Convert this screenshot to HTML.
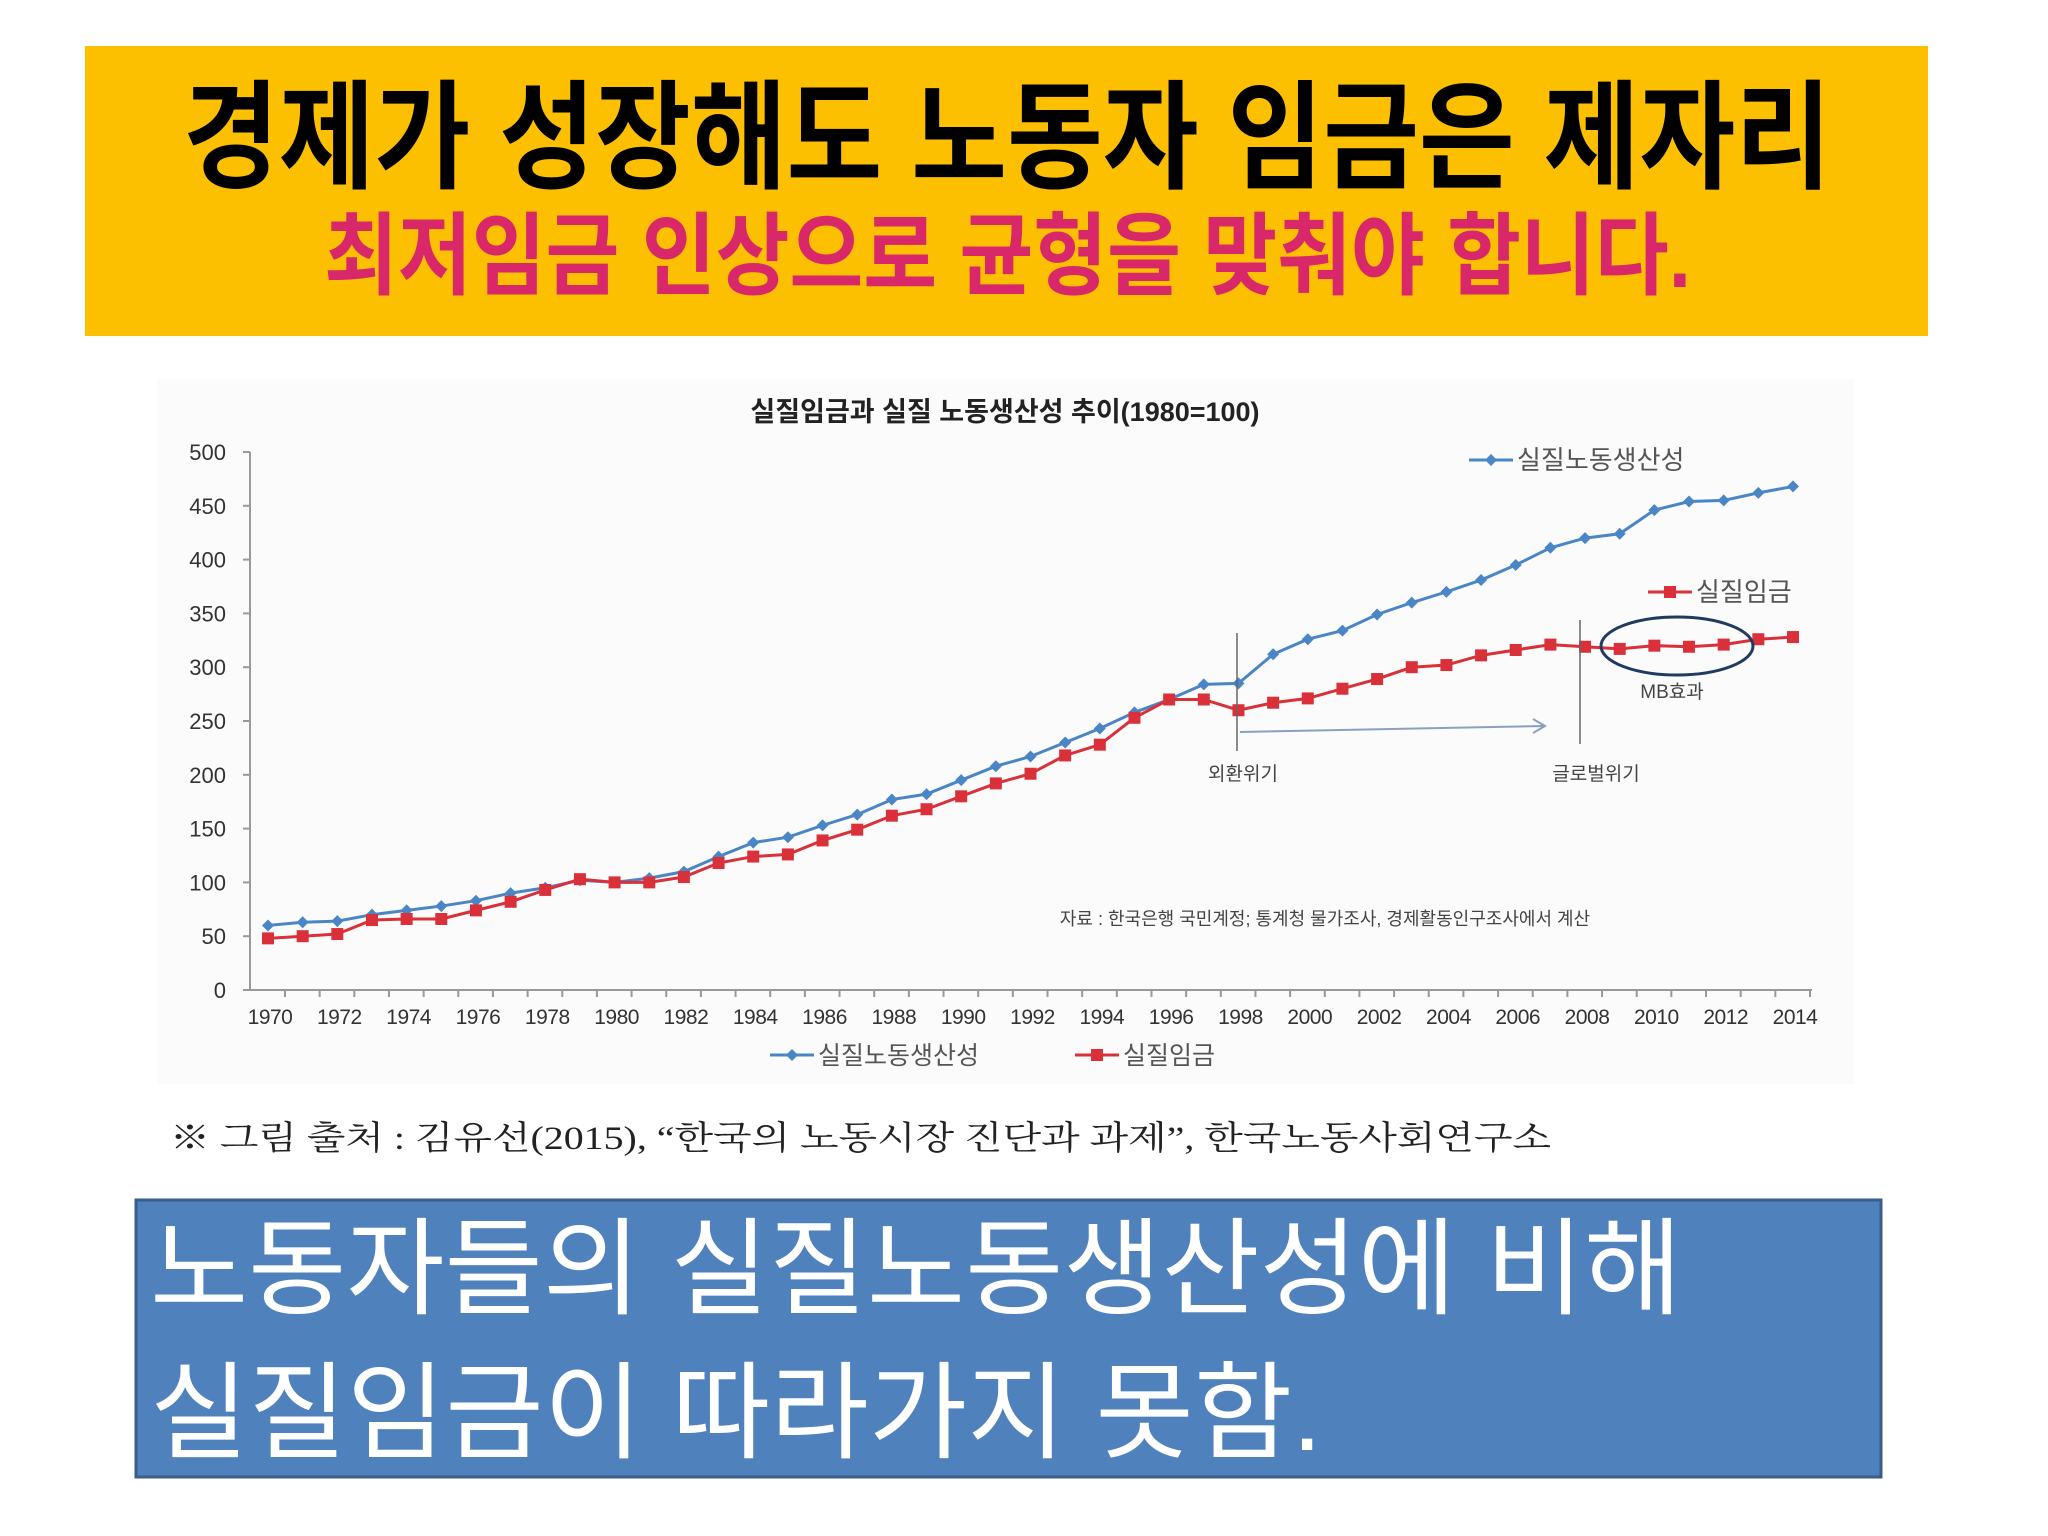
<!DOCTYPE html>
<html><head><meta charset="utf-8"><style>
html,body{margin:0;padding:0;background:#fff;width:2048px;height:1536px;overflow:hidden}
svg{display:block}
text{font-family:"Liberation Sans","Noto Sans CJK KR",sans-serif}
</style></head><body>
<svg id="page" width="2048" height="1536" viewBox="0 0 2048 1536" xmlns="http://www.w3.org/2000/svg">
<rect x="85" y="46" width="1843" height="290" fill="#fdc000"/>
<text x="183" y="179" font-size="118" font-weight="bold" fill="#000" textLength="1648" lengthAdjust="spacingAndGlyphs">경제가 성장해도 노동자 임금은 제자리</text>
<text x="324" y="287" font-size="90" font-weight="bold" fill="#d8286a" textLength="1367" lengthAdjust="spacingAndGlyphs">최저임금 인상으로 균형을 맞춰야 합니다.</text>

<rect x="157" y="379" width="1697" height="705" fill="#fbfbfb"/>
<text x="1005" y="421" font-size="27" font-weight="bold" fill="#222" text-anchor="middle">실질임금과 실질 노동생산성 추이(1980=100)</text>
<g id="chart"></g>

<text x="170" y="1149" font-size="33" fill="#222" style='font-family:"Liberation Serif","Noto Serif CJK SC",serif' textLength="1381" lengthAdjust="spacingAndGlyphs">※ 그림 출처 : 김유선(2015), “한국의 노동시장 진단과 과제”, 한국노동사회연구소</text>

<rect x="136" y="1200" width="1745" height="277" fill="#4f81bd" stroke="#385d8a" stroke-width="3"/>
<text x="150" y="1306" font-size="106" fill="#fff" textLength="1532" lengthAdjust="spacingAndGlyphs">노동자들의 실질노동생산성에 비해</text>
<text x="150" y="1450" font-size="106" fill="#fff" textLength="1172" lengthAdjust="spacingAndGlyphs">실질임금이 따라가지 못함.</text>
</svg>
<script>
const years = [];
for (let y = 1970; y <= 2014; y++) years.push(y);
const productivity = [60,63,64,70,74,78,83,90,95,102,100,104,110,124,137,142,153,163,177,182,195,208,217,230,243,258,270,284,285,312,326,334,349,360,370,381,395,411,420,424,446,454,455,462,468];
const wages = [48,50,52,65,66,66,74,82,93,103,100,100,105,118,124,126,139,149,162,168,180,192,201,218,228,253,270,270,260,267,271,280,289,300,302,311,316,321,319,317,320,319,321,326,328];
const yTicks = [0,50,100,150,200,250,300,350,400,450,500];
const xTickLabels = [1970,1972,1974,1976,1978,1980,1982,1984,1986,1988,1990,1992,1994,1996,1998,2000,2002,2004,2006,2008,2010,2012,2014];

const NS = "http://www.w3.org/2000/svg";
const g = document.getElementById('chart');
const X0 = 268, X1 = 1793, Y0 = 990, Y1 = 452;
const xScale = yr => X0 + (yr - 1970) * (X1 - X0) / 44;
const yScale = v => Y0 - v * (Y0 - Y1) / 500;
function mk(tag, attrs, parent) {
  const e = document.createElementNS(NS, tag);
  for (const k in attrs) e.setAttribute(k, attrs[k]);
  (parent || g).appendChild(e);
  return e;
}
let el = mk('line', {x1: 250, y1: yScale(0), x2: 1812, y2: yScale(0), stroke: '#999', 'stroke-width': 2});


el = mk('line', {x1: 250, y1: yScale(0), x2: 250, y2: yScale(500), stroke: '#999', 'stroke-width': 2});


yTicks.forEach(t => {
  mk('line', {x1: 243, y1: yScale(t), x2: 250, y2: yScale(t), stroke: '#999', 'stroke-width': 2});
  const tx = mk('text', {x: 226, y: yScale(t) + 8, 'font-size': 22, 'text-anchor': 'end', fill: '#333'});
  tx.textContent = t;
  
  
});
years.forEach((yr, i) => {
  mk('line', {x1: xScale(yr) + 17, y1: yScale(0), x2: xScale(yr) + 17, y2: yScale(0) + 7, stroke: '#999', 'stroke-width': 2});
});
xTickLabels.forEach(yr => {
  const tx = mk('text', {x: xScale(yr) + 2, y: 1024, 'font-size': 21, 'text-anchor': 'middle', fill: '#333', 'letter-spacing': -0.5});
  tx.textContent = yr;
  
  
});
function series(vals, color, name, square) {
  const pts = vals.map((v, i) => xScale(years[i]) + ',' + yScale(v)).join(' ');
  const pl = mk('polyline', {points: pts, fill: 'none', stroke: color, 'stroke-width': 3});
  
  
  vals.forEach((v, i) => {
    const cx = xScale(years[i]), cy = yScale(v);
    let m;
    if (square) m = mk('rect', {x: cx - 6, y: cy - 6, width: 12, height: 12, fill: color});
    else m = mk('polygon', {points: `${cx},${cy-6} ${cx+6},${cy} ${cx},${cy+6} ${cx-6},${cy}`, fill: color});
    
    
  });
}
series(productivity, '#4a86c5', 'productivity', false);
series(wages, '#d9303a', 'wage', true);

function legend(x, y, color, square, label, name, fs) {
  mk('line', {x1: x, y1: y, x2: x + 44, y2: y, stroke: color, 'stroke-width': 3});
  if (square) mk('rect', {x: x + 16, y: y - 6, width: 12, height: 12, fill: color});
  else mk('polygon', {points: `${x+22},${y-6} ${x+28},${y} ${x+22},${y+6} ${x+16},${y}`, fill: color});
  const t = mk('text', {x: x + 48, y: y + 9, 'font-size': fs, fill: '#555'});
  t.textContent = label;
  
  
}
legend(1469, 460, '#4a86c5', false, '실질노동생산성', 'legend-productivity-top', 26);
legend(1648, 592, '#d9303a', true, '실질임금', 'legend-wage-top', 26);
legend(770, 1055, '#4a86c5', false, '실질노동생산성', 'legend-productivity', 25);
legend(1075, 1055, '#d9303a', true, '실질임금', 'legend-wage', 25);

mk('line', {x1: 1237, y1: 633, x2: 1237, y2: 751, stroke: '#666', 'stroke-width': 1.5});
mk('line', {x1: 1580, y1: 620, x2: 1580, y2: 744, stroke: '#666', 'stroke-width': 1.5});
mk('line', {x1: 1240, y1: 732, x2: 1545, y2: 726, stroke: '#8aa0c0', 'stroke-width': 2});
mk('polyline', {points: '1533,719 1545,726 1533,733', fill: 'none', stroke: '#8aa0c0', 'stroke-width': 2});
mk('ellipse', {cx: 1677, cy: 646, rx: 76, ry: 29, fill: 'none', stroke: '#203a60', 'stroke-width': 3});
[['외환위기', 1243, 780, 'crisis-1997-label'], ['글로벌위기', 1596, 780, 'crisis-2008-label'], ['MB효과', 1672, 698, 'mb-effect-label']].forEach(a => {
  const t = mk('text', {x: a[1], y: a[2], 'font-size': 19, 'text-anchor': 'middle', fill: '#444'});
  t.textContent = a[0];
  
  
});
const src = mk('text', {x: 1325, y: 925, 'font-size': 18, 'text-anchor': 'middle', fill: '#444'});
src.textContent = '자료 : 한국은행 국민계정; 통계청 물가조사, 경제활동인구조사에서 계산';


</script>
</body></html>
